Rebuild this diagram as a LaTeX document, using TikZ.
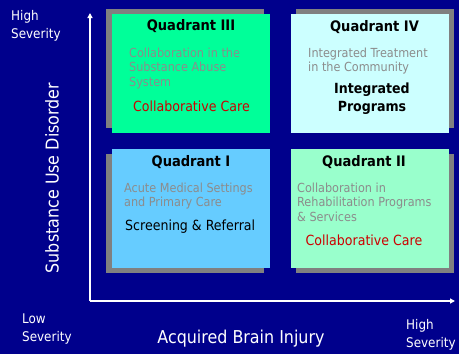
\documentclass[tikz,border=0pt]{standalone}
\usepackage{fontspec}
\setmainfont{DejaVu Sans Condensed}
\usetikzlibrary{arrows.meta}
\definecolor{navy}{RGB}{0,0,140}
\definecolor{qthree}{RGB}{0,255,153}
\definecolor{qfour}{RGB}{204,255,255}
\definecolor{qone}{RGB}{102,204,255}
\definecolor{qtwo}{RGB}{153,255,204}
\definecolor{shadowgray}{RGB}{128,128,128}
\definecolor{desc}{RGB}{140,140,140}
\definecolor{redtxt}{RGB}{204,0,0}
\tikzset{
  x=1pt, y=-1pt,
  quadbox/.style={minimum width=158pt, minimum height=119pt, inner sep=0pt, draw=none},
  shadowbox/.style={fill=shadowgray, minimum width=158pt, minimum height=119pt, inner sep=0pt},
  title/.style={font=\fontsize{14.5}{16}\selectfont\bfseries, text=black, inner sep=0pt},
  desctxt/.style={font=\fontsize{12.5}{14.5}\selectfont, text=desc, align=left, anchor=north west, inner sep=0pt},
  redlbl/.style={font=\fontsize{14}{16}\selectfont, text=redtxt, inner sep=0pt},
  axislbl/.style={font=\fontsize{13.3}{18}\selectfont, text=white, align=left, inner sep=0pt},
  biglbl/.style={font=\fontsize{17.7}{20}\selectfont, text=white, inner sep=0pt},
  axisline/.style={draw=white, line width=1.3pt, -{Triangle[length=5pt,width=5pt]}}
}
\begin{document}
\begin{tikzpicture}
\fill[navy] (0,0) rectangle (459,354);
\useasboundingbox (0,0) rectangle (459,354);
% axes
\coordinate (origin) at (90,301);
\coordinate (ytip) at (90,13);
\coordinate (xtip) at (455,301);
\draw[axisline] (origin) -- (ytip);
\draw[axisline] (origin) -- (xtip);
% Quadrant III
\node[shadowbox] (s3) at (185,68) {};
\node[quadbox, fill=qthree] (q3) at (191,73.5) {};
\node[title] (t3) at (191,26.5) {Quadrant III};
\node[desctxt] (d3) at (129,47.5) {Collaboration in the\\Substance Abuse\\System};
\node[redlbl, anchor=west] (r3) at (133,106.5) {Collaborative Care};
% Quadrant IV
\node[shadowbox] (s4) at (375,68) {};
\node[quadbox, fill=qfour] (q4) at (370,73.5) {};
\node[title] (t4) at (374.5,27.5) {Quadrant IV};
\node[desctxt] (d4) at (308,47.5) {Integrated Treatment\\in the Community};
\node[title, align=center, font=\fontsize{14}{18}\selectfont\bfseries] (p4) at (372,98.5) {Integrated\\Programs};
% Quadrant I
\node[shadowbox] (s1) at (185,213.5) {};
\node[quadbox, fill=qone] (q1) at (191,208.5) {};
\node[title] (t1) at (191,162.5) {Quadrant I};
\node[desctxt] (d1) at (124,182.5) {Acute Medical Settings\\and Primary Care};
\node[font=\fontsize{14}{16}\selectfont, text=black, anchor=west, inner sep=0pt] (r1) at (125,226.5) {Screening \& Referral};
% Quadrant II
\node[shadowbox] (s2) at (375,213.5) {};
\node[quadbox, fill=qtwo] (q2) at (370,208.5) {};
\node[title] (t2) at (364,162.5) {Quadrant II};
\node[desctxt] (d2) at (297,182.5) {Collaboration in\\Rehabilitation Programs\\\& Services};
\node[redlbl] (r2) at (364,240.5) {Collaborative Care};
% axis labels
\node[axislbl, anchor=north west] (hs1) at (11,10.5) {High\\Severity};
\node[biglbl, rotate=90] (ylab) at (52,178) {Substance Use Disorder};
\node[axislbl, anchor=north west] (ls) at (22,313.5) {Low\\Severity};
\node[biglbl] (xlab) at (241,339) {Acquired Brain Injury};
\node[axislbl, anchor=north west] (hs2) at (406,319.5) {High\\Severity};
\end{tikzpicture}
\end{document}
